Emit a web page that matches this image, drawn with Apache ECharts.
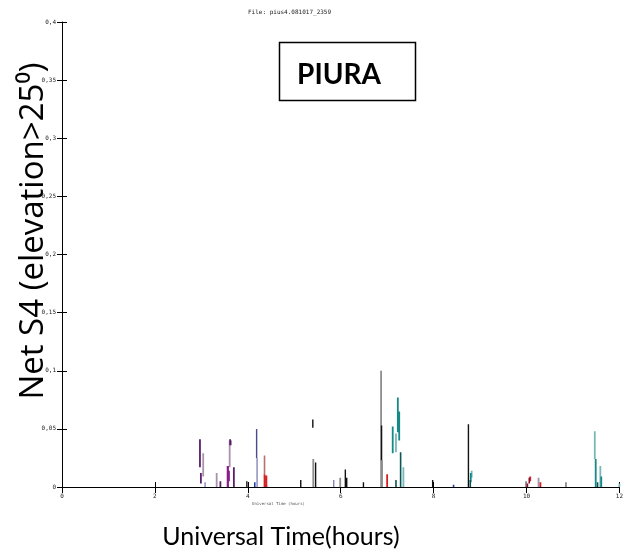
<!DOCTYPE html>
<html><head><meta charset="utf-8">
<script src="https://cdn.jsdelivr.net/npm/echarts@6/dist/echarts.min.js"></script>
<style>html,body{margin:0;padding:0;background:#fff}#c{width:626px;height:555px}</style>
</head><body><div id="c"></div>
<script>
// Each segment: [hour, s4Low, s4High]
var xTicks = [0, 2, 4, 6, 8, 10, 12];
var yTicks = [0, 0.05, 0.1, 0.15, 0.2, 0.25, 0.3, 0.35, 0.4];
var segBlack = [[3.98,0,0.005],[5.14,0,0.006],[5.40,0.051,0.058],[5.46,0,0.021],[6.10,0,0.015],[6.13,0,0.008],[6.49,0,0.004],[6.88,0.023,0.053],[7.98,0,0.006],[8.75,0,0.054]];
var segGrey = [[5.41,0,0.024],[5.99,0,0.008],[6.87,0,0.1],[6.89,0,0.023],[9.99,0,0.005],[10.85,0,0.004]];
var segPurple = [[2.97,0.017,0.041],[2.99,0.003,0.012],[3.41,0,0.005],[3.70,0,0.017],[3.62,0.036,0.041]];
var segMauve = [[3.04,0.009,0.029],[3.33,0,0.012],[3.61,0.017,0.040],[3.64,0.036,0.040],[10.26,0,0.008]];
var segMagenta = [[3.57,0,0.018],[3.59,0.005,0.014]];
var segSlate = [[4.19,0.025,0.050]];
var segLightSlate = [[4.20,0,0.025],[3.08,0,0.004],[5.85,0,0.006]];
var segBlue = [[4.15,0,0.004],[4.40,0,0.002],[8.43,0,0.002]];
var segRosy = [[4.36,0.011,0.027]];
var segRed = [[4.36,0,0.011],[4.40,0,0.010],[7.00,0,0.011],[10.08,0.005,0.009],[10.30,0,0.004]];
var segDarkRed = [[10.02,0,0.003],[10.06,0.003,0.008]];
var segTeal = [[7.12,0.029,0.052],[7.23,0.047,0.077],[7.26,0.040,0.065],[8.80,0.004,0.012],[11.49,0,0.024],[11.61,0,0.009]];
var segLightTeal = [[7.19,0.030,0.046],[7.35,0,0.017],[8.82,0.008,0.014],[11.47,0.024,0.048],[11.59,0,0.018],[12.0,0,0.003]];
var segDarkTeal = [[7.29,0,0.030],[7.19,0,0.006],[8.79,0,0.006],[11.53,0,0.004]];

function toLine(segs){
  var d=[];
  segs.forEach(function(s){ d.push([s[0],s[1]]); d.push([s[0],s[2]]); d.push('-'); });
  return d;
}
function mk(segs,color,w){
  return {type:'line',data:toLine(segs),showSymbol:false,symbol:'none',connectNulls:false,
    lineStyle:{color:color,width:w||1.6},itemStyle:{color:color},silent:true,animation:false,xAxisIndex:0,yAxisIndex:0};
}
var comma=function(v){return String(+v.toFixed(2)).replace('.',',');};
var tickFont={fontSize:6,color:'#222',fontFamily:'DejaVu Sans Mono'};
var chart=echarts.init(document.getElementById('c'),null,{renderer:'canvas'});
chart.setOption({
  animation:false,
  backgroundColor:'#fff',
  grid:{left:62,right:6,top:22,bottom:68},
  xAxis:[
    {type:'value',min:xTicks[0],max:xTicks[xTicks.length-1],interval:2,position:'bottom',
     axisLine:{show:true,lineStyle:{color:'#000',width:1}},
     axisTick:{show:true,inside:true,length:5,lineStyle:{color:'#000'}},
     axisLabel:Object.assign({margin:6},tickFont),splitLine:{show:false}},
    {type:'value',min:0,max:12,interval:2,position:'top',
     axisLine:{show:true,lineStyle:{color:'#000',width:1}},
     axisTick:{show:true,inside:true,length:6,lineStyle:{color:'#000'}},
     axisLabel:{show:false},splitLine:{show:false}}
  ],
  yAxis:[
    {type:'value',min:yTicks[0],max:yTicks[yTicks.length-1],interval:0.05,position:'left',
     axisLine:{show:true,lineStyle:{color:'#000',width:1}},
     axisTick:{show:true,inside:true,length:5,lineStyle:{color:'#000'}},
     axisLabel:Object.assign({margin:6,formatter:comma},tickFont),splitLine:{show:false}},
    {type:'value',min:0,max:0.4,interval:0.05,position:'right',
     axisLine:{show:false},
     axisTick:{show:true,inside:true,length:5,lineStyle:{color:'#000'}},
     axisLabel:{show:false},splitLine:{show:false}}
  ],
  series:[
    mk(segGrey,'#8c8c8c',1.8),
    mk(segBlack,'#111111',1.4),
    mk(segMauve,'#a892ad',1.8),
    mk(segPurple,'#5b1f6b',1.8),
    mk(segMagenta,'#8b1a8b',2.2),
    mk(segLightSlate,'#8888b8',1.4),
    mk(segSlate,'#4b4b8c',1.4),
    mk(segBlue,'#1f3fa0',1.6),
    mk(segRosy,'#b87070',1.6),
    mk(segRed,'#d42020',1.8),
    mk(segDarkRed,'#8b1030',1.6),
    mk(segLightTeal,'#78b8b8',1.8),
    mk(segTeal,'#168888',1.8),
    mk(segDarkTeal,'#0b5555',1.6)
  ],
  graphic:[
    {type:'text',left:248,top:9,style:{text:'File: pius4.081017_2359',fontSize:6,fill:'#222',fontFamily:'DejaVu Sans Mono'}},
    {type:'text',left:252,top:502,style:{text:'Universal Time (hours)',fontSize:4,fill:'#555',fontFamily:'DejaVu Sans Mono'}},
    {type:'rect',shape:{x:279.5,y:42.5,width:136,height:58},style:{fill:'#fff',stroke:'#000',lineWidth:1.5}},
    {type:'text',x:339,y:75,style:{text:'PIURA',fontSize:28,fontWeight:'bold',fill:'#000',fontFamily:'Lato',align:'center',verticalAlign:'middle'}},
    {type:'text',x:281,y:537,style:{text:'Universal Time(hours)',fontSize:25,fill:'#000',fontFamily:'Lato',align:'center',verticalAlign:'middle'}},
    {type:'text',x:34,y:231,rotation:Math.PI/2,style:{text:'Net S4 (elevation>25\u2070)',fontSize:33,fill:'#000',fontFamily:'Open Sans',align:'center',verticalAlign:'middle'}}
  ]
});
</script></body></html>
